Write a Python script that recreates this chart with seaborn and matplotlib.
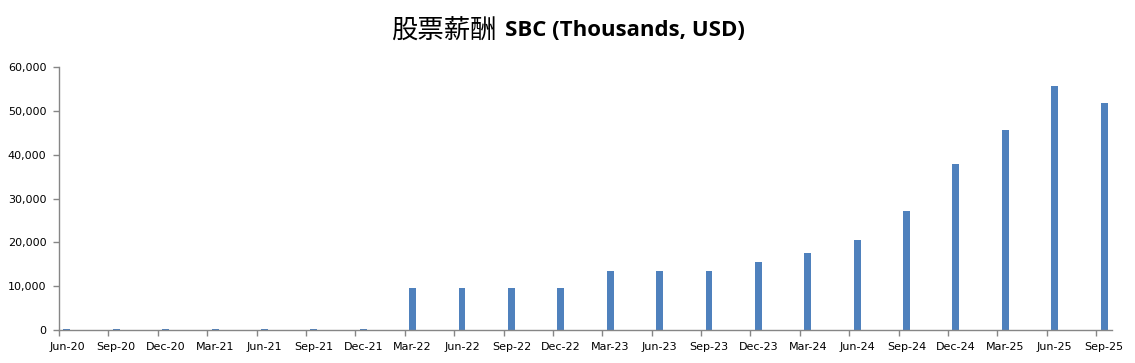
import matplotlib
matplotlib.use("Agg")
import matplotlib.pyplot as plt
import seaborn as sns
import pandas as pd
from matplotlib.ticker import FuncFormatter, FixedLocator

categories = ["Jun-20", "Sep-20", "Dec-20", "Mar-21", "Jun-21", "Sep-21", "Dec-21",
              "Mar-22", "Jun-22", "Sep-22", "Dec-22", "Mar-23", "Jun-23", "Sep-23",
              "Dec-23", "Mar-24", "Jun-24", "Sep-24", "Dec-24", "Mar-25", "Jun-25", "Sep-25"]
sbc = [250, 300, 300, 300, 300, 300, 300,
       9600, 9600, 9600, 9600, 13450, 13450, 13450,
       15500, 17550, 20500, 27150, 37850, 45600, 55650, 51750]
yticks = [0, 10000, 20000, 30000, 40000, 50000, 60000]

sns.set_theme(style="white")
plt.rcParams['font.family'] = ['DejaVu Sans']

df = pd.DataFrame({"quarter": categories, "sbc": sbc})

fig = plt.figure(figsize=(11.35, 3.63), dpi=100)
ax = fig.add_axes([59/1135, 1 - 330/363, (1112-59)/1135, (330-67)/363])

sns.barplot(data=df, x="quarter", y="sbc", color="#4F81BD", width=0.14,
            saturation=1, ax=ax, edgecolor="none")

n = len(categories)
ax.set_xlim(-0.16, n - 1 + 0.16)
ax.set_ylim(0, 60000)
ax.set_yticks(yticks)
ax.yaxis.set_major_formatter(FuncFormatter(lambda v, p: f"{int(v):,}"))
ax.set_xticks(range(n))
ax.set_xticklabels(categories)
ax.xaxis.set_minor_locator(FixedLocator([i - 0.16 for i in range(n)]))
ax.tick_params(axis="x", which="major", length=0, pad=9, labelsize=8, colors="#000000")
ax.tick_params(axis="x", which="minor", length=4, width=1, color="#868686", direction="out", bottom=True)
ax.tick_params(axis="y", which="major", length=4, width=1, color="#868686", direction="out",
               labelsize=8, labelcolor="#000000", left=True, pad=5)
ax.set_xlabel("")
ax.set_ylabel("")
for s in ["top", "right"]:
    ax.spines[s].set_visible(False)
for s in ["left", "bottom"]:
    ax.spines[s].set_color("#868686")
    ax.spines[s].set_linewidth(1)

fig.text(497/1135, 1 - 31/363, "股票薪酬", ha="right", va="center", fontsize=19,
         family=["Noto Sans CJK SC", "DejaVu Sans"], color="#000000")
fig.text(505/1135, 1 - 31/363, "SBC (Thousands, USD)", ha="left", va="center", fontsize=16,
         fontweight="bold", family=["Open Sans", "DejaVu Sans"], color="#000000")

fig.savefig("out.png", dpi=100)
